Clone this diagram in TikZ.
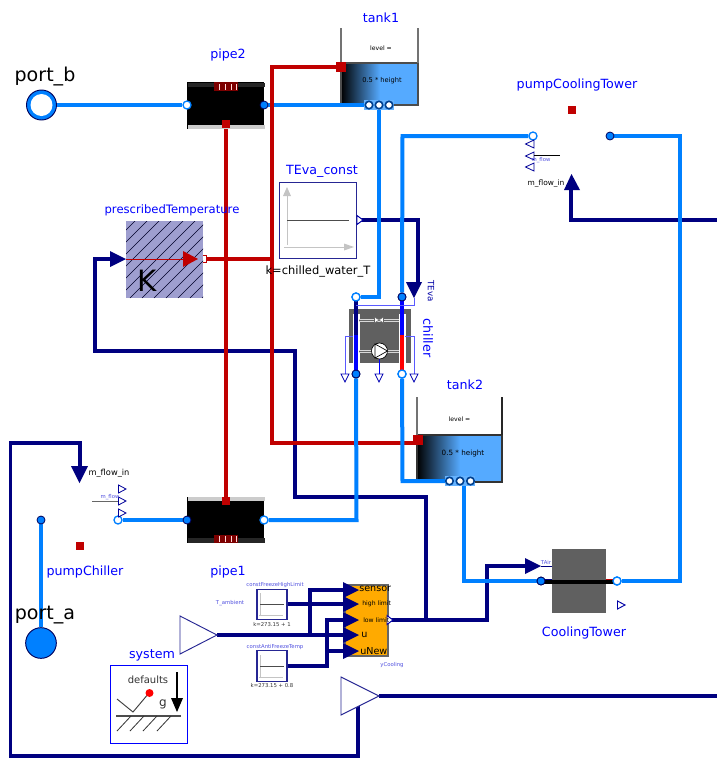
\documentclass[tikz,border=0pt]{standalone}
\usepackage{fontspec}
\setmainfont{DejaVu Sans}
\definecolor{wblue}{HTML}{0080FF}
\definecolor{wred}{HTML}{C00000}
\definecolor{wnavy}{HTML}{000080}
\definecolor{fluid}{HTML}{55AAFF}
\definecolor{tinyblue}{HTML}{5050E0}
\definecolor{cgrey}{HTML}{606060}
\definecolor{axisg}{HTML}{C4C4C4}
\definecolor{sigblue}{HTML}{5A5AFF}
\definecolor{ctrl}{HTML}{FFAA00}
\definecolor{ring}{HTML}{00408F}
\pgfdeclarelayer{blocks}
\pgfdeclarelayer{wires}
\pgfsetlayers{blocks,wires,main}
\newcommand{\fsz}[1]{\fontsize{#1}{#1}\selectfont}
\tikzset{
  bluew/.style={draw=wblue,line width=3pt,miter limit=10},
  redw/.style={draw=wred,line width=3pt},
  navyw/.style={draw=wnavy,line width=2.6pt},
  fullport/.style={circle,inner sep=0pt,minimum size=6pt,fill=wblue,draw=wnavy!70!black,line width=0.6pt},
  openport/.style={circle,inner sep=0pt,minimum size=6pt,fill=white,draw=wblue,line width=1pt},
  tankport/.style={circle,inner sep=0pt,minimum size=5.6pt,fill=white,draw=ring,line width=1.2pt},
  heatport/.style={rectangle,inner sep=0pt,minimum size=6pt,fill=wred},
  pipebody/.style={rectangle,inner sep=0pt,fill=black,minimum width=58pt,minimum height=35pt},
  lab/.style={inner sep=0pt,text=blue,font=\fsz{9.5}},
  biglab/.style={inner sep=0pt,text=black,font=\fsz{14.3}},
  blk/.style={inner sep=0pt,text=black,font=\fsz{8.6}},
  small/.style={inner sep=0pt,text=black,font=\fsz{5.6}},
  tiny/.style={inner sep=0pt,text=tinyblue,font=\fsz{4}},
  tinyk/.style={inner sep=0pt,text=black!80,font=\fsz{4}},
  srcbox/.style={rectangle,inner sep=0pt,fill=white,draw=wnavy!85,line width=0.8pt},
  navyfill/.style={fill=wnavy,draw=none},
  hollow/.style={fill=white,draw=wnavy!70!blue,line width=0.7pt},
  sig/.style={draw=sigblue,line width=0.6pt},
}
\begin{document}
\begin{tikzpicture}[x=0.75pt,y=-0.75pt]
\useasboundingbox (0,0) rectangle (717,758);

% ---------- pipes and their strips
\node[pipebody] (pipe2) at (225.5,105.5) {};
\node[pipebody] (pipe1) at (225.5,520) {};
\fill[black!85] (187.5,83) rectangle (264.5,87);
\fill[black!20] (187.5,125) rectangle (264.5,129);
\fill[black!20] (187.5,497) rectangle (264.5,501);
\fill[black!85] (187.5,538) rectangle (264.5,543);
\fill[wred!65!black] (214,82) rectangle (238,91);
\fill[wred!65!black] (214,535) rectangle (238,543);
\foreach \x in {220,226,232,237}{
  \draw[white!85!red,line width=0.5pt] (\x-1,84) -- (\x-1,90);
  \draw[white!85!red,line width=0.5pt] (\x-1,536) -- (\x-1,542);
}
% ---------- ports
\node[openport] (p2L) at (187,105) {};
\node[fullport] (p2R) at (264,105) {};
\node[fullport] (p1L) at (187,520) {};
\node[openport] (p1R) at (264,520) {};
\node[heatport] (p2H) at (226,124) {};
\node[heatport] (p1H) at (226,501) {};
\node[circle,inner sep=0pt,minimum size=22.5pt,fill=wblue,draw=wnavy!70!black,line width=0.7pt] (portb) at (41.5,105) {};
\node[circle,inner sep=0pt,minimum size=16.5pt,fill=white] at (41.5,105) {};
\node[circle,inner sep=0pt,minimum size=23pt,fill=wblue,draw=wnavy!70!black,line width=0.7pt] (porta) at (41,643) {};
\node[fullport] (pcL0) at (41,520) {};
\node[openport] (pcR) at (118,520) {};
\node[openport] (ptL) at (533,136) {};
\node[fullport] (ptR) at (610,136) {};
\node[openport] (chTL) at (356,297) {};
\node[fullport] (chTR) at (402,297) {};
\node[fullport] (chBL) at (356,374) {};
\node[openport] (chBR) at (402,374) {};
\node[fullport] (ctL) at (541,581) {};
\node[openport] (ctR) at (617,581) {};
\node[rectangle,inner sep=0pt,minimum width=23pt,minimum height=8pt,fill=wblue!60!white] at (379,105) {};
\node[tankport] (t1a) at (369,105) {};
\node[tankport] (t1b) at (379,105) {};
\node[tankport] (t1c) at (389,105) {};
\node[rectangle,inner sep=0pt,minimum width=23pt,minimum height=8pt,fill=wblue!60!white] at (460,481) {};
\node[tankport] (t2a) at (449.5,481) {};
\node[tankport] (t2b) at (460,481) {};
\node[tankport] (t2c) at (470.5,481) {};
\node[heatport,minimum size=7pt] (t1H) at (341,67) {};
\node[heatport,minimum size=7.5pt] (t2H) at (418,440) {};
\node[rectangle,inner sep=0pt,minimum size=5pt,fill=white,draw=wred,line width=0.7pt] (ptOut) at (203,259) {};
\node[heatport] at (571.5,110) {};
\node[heatport] at (80,546) {};

\coordinate (ptIn) at (110,259);
\coordinate (teva) at (418,282);
\coordinate (ctmf) at (571,190);
\coordinate (pcmf) at (80,466);
\coordinate (amp2in) at (358,706);
\coordinate (amp2out) at (379,696);
\coordinate (sysOut) at (217,635);
\coordinate (cSensor) at (343,590);
\coordinate (cHigh) at (343,604);
\coordinate (cLow) at (343,620);
\coordinate (cU) at (343,635);
\coordinate (cNew) at (343,651);
\coordinate (cOut) at (388,620);
\coordinate (tair) at (526,566);
\coordinate (teOut) at (357,220);
\coordinate (hiOut) at (288,604);
\coordinate (loOut) at (288,666);

% ---------- blocks under the wires
\begin{pgfonlayer}{blocks}
\fill[white] (0,0) rectangle (717,758);
% tank 1
\shade[left color=black,right color=fluid] (341,63) rectangle (380,105);
\fill[fluid] (380,63) rectangle (418,105);
\draw[black!70,line width=0.8pt] (341,105) -- (418,105) -- (418,63) -- (341,63) -- cycle;
\draw[black!55,line width=0.9pt] (341,63) -- (341,28) (418,63) -- (418,28);
% tank 2
\shade[left color=black,right color=fluid] (417,435) rectangle (460,482);
\fill[fluid] (460,435) rectangle (502,482);
\draw[black!80,line width=0.8pt] (417,482) -- (502,482) -- (502,435) -- (417,435) -- cycle;
\draw[black!55,line width=0.9pt] (417,435) -- (417,397);
\draw[black!85,line width=0.9pt] (502,435) -- (502,397);
% chiller
\fill[cgrey] (349,309) rectangle (411,363);
\fill[white] (352.5,314) rectangle (359.5,367);
\fill[white] (398.5,314) rectangle (405.5,367);
\draw[white!85!black,line width=0.4pt] (359,319) -- (399,319) (359,321.5) -- (399,321.5);
\draw[white!85!black,line width=0.4pt] (359,350) -- (399,350) (359,352.5) -- (399,352.5);
\draw[black!60,line width=0.5pt] (359,320) -- (399,320) (359,351) -- (399,351);
% cooling tower
\fill[cgrey] (552,549) rectangle (606,613);
% controller
\fill[ctrl] (345,585) rectangle (388,656);
\draw[black!60,line width=0.8pt] (345,585) rectangle (388,656);
\end{pgfonlayer}

% ---------- wires
\begin{pgfonlayer}{wires}
% navy
\draw[navyw] (teOut) -- (418,220) -- (teva);
\draw[navyw] (ptIn) -- (95,259) -- (95,351) -- (295,351) -- (295,497) -- (426,497) -- (426,620);
\draw[navyw] (cOut) -- (487,620) -- (487,566) -- (tair);
\draw[navyw] (ctmf) -- (571,220) -- (717,220);
\draw[navyw] (amp2in) -- (358,756) -- (10.5,756) -- (10.5,443) -- (80,443) -- (pcmf);
\draw[navyw] (amp2out) -- (717,696);
\draw[navyw] (sysOut) -- (cU);
\draw[navyw] (310,635) -- (310,590) -- (cSensor);
\draw[navyw] (hiOut) -- (cHigh);
\draw[navyw] (loOut) -- (327,666) -- (327,620) -- (cLow);
\draw[navyw] (327,651) -- (cNew);
% blue passing under the red
\draw[bluew] (portb) -- (p2L);
\draw[bluew] (p2R) -- (t1a);
% red
\draw[redw] (p2H) -- (p1H);
\draw[redw] (ptOut) -- (272,259);
\draw[redw] (t1H.center) -- (272,67) -- (272,443) -- (t2H.center |- 0,443);
% other blue
\draw[bluew] (t1b) -- (379,297) -- (chTL);
\draw[bluew] (chTR) -- (402.5,136) -- (ptL);
\draw[bluew] (ptR) -- (680,136) -- (680,581) -- (ctR);
\draw[bluew] (ctL) -- (464,581) -- (464,481);
\draw[bluew] (chBR) -- (402.5,481) -- (t2a);
\draw[bluew] (chBL) -- (356.5,520) -- (p1R);
\draw[bluew] (p1L) -- (pcR);
\draw[bluew] (pcL0) -- (porta);
\end{pgfonlayer}

% ---------- prescribedTemperature
\node[rectangle,inner sep=0pt,minimum size=58pt,fill=wnavy!38!white] (prescribedTemperature) at (164.5,259.5) {};
\begin{scope}
\clip (126,221) rectangle (203,298);
\foreach \d in {0,12,...,168}{
  \draw[black!70!wnavy,line width=0.45pt] (126+\d-80,298) -- (126+\d,218);
}
\end{scope}
\node[inner sep=0pt,font=\fsz{22}] (kLetter) at (147,281) {K};
\draw[wred,line width=0.5pt] (126,259) -- (190,259);
\fill[wred] (183,251) -- (198,259) -- (183,267) -- cycle;
\path[navyfill] (110,251) -- (126,259) -- (110,267) -- cycle;

% ---------- TEva_const
\node[srcbox,minimum size=57.5pt] (TEvaConst) at (318,220.5) {};
\draw[axisg,line width=0.7pt] (287,245) -- (287,195) (284,247) -- (346,247);
\fill[axisg] (287,187) -- (291,196) -- (283,196) -- cycle;
\fill[axisg] (354,247) -- (344,243.5) -- (344,250.5) -- cycle;
\draw[black!70,line width=0.7pt] (287,220) -- (349,220);
\path[hollow] (357,215.5) -- (363,220) -- (357,224.5) -- cycle;
\path[navyfill] (406,282) -- (422,282) -- (414,298) -- cycle;

% ---------- chiller details
\draw[wnavy,line width=3pt] (356,300) -- (356,335);
\draw[blue,line width=3pt] (356,335) -- (356,371);
\draw[blue,line width=3pt] (402,300) -- (402,335);
\draw[red,line width=3pt] (402,335) -- (402,371);
\draw[sig] (356,305) -- (414,305) -- (414,298);
\draw[sig] (353,336) -- (345,336) -- (345,374);
\draw[sig] (405,336) -- (414,336) -- (414,374);
\draw[blue,line width=0.6pt] (379,358) -- (379,374);
\foreach \x in {345,379,414}{
  \draw[fill=white,draw=blue!70!black,line width=0.6pt] (\x-4,374) -- (\x+4,374) -- (\x,382) -- cycle;
}
\draw[fill=white,draw=black!60,line width=0.4pt] (374.5,317) -- (383.5,323) -- (383.5,317) -- (374.5,323) -- cycle;
\node[circle,inner sep=0pt,minimum size=12pt,fill=white,draw=black,line width=0.5pt] (pumpIcon) at (379.5,351) {};
\draw[fill=white,draw=black,line width=0.5pt] (375,344) -- (387.5,351) -- (375,358) -- cycle;
\foreach \n in {chTL,chBR}{\node[openport] at (\n) {};}
\foreach \n in {chTR,chBL}{\node[fullport] at (\n) {};}

% ---------- pump icons
\foreach \y in {144,156,167}{
  \draw[fill=white,draw=wnavy!80!blue,line width=0.6pt] (534,\y-4) -- (534,\y+4) -- (525.5,\y) -- cycle;
}
\draw[black,line width=0.5pt] (534,155.5) -- (560,155.5);
\path[navyfill] (571.5,174) -- (580,190) -- (564,190) -- cycle;
\foreach \y in {489,501,513}{
  \draw[fill=white,draw=wnavy!80!blue,line width=0.6pt] (118.5,\y-4) -- (118.5,\y+4) -- (126,\y) -- cycle;
}
\draw[black!60,line width=0.5pt] (92,501) -- (118,501);
\path[navyfill] (71,466) -- (88,466) -- (79.5,483) -- cycle;

% ---------- cooling tower details
\draw[wnavy,line width=0.7pt] (541,566) -- (552,566);
\draw[wnavy,line width=0.7pt] (541,579) -- (552,579);
\draw[wred,line width=0.7pt] (606,579) -- (617,579);
\draw[black,line width=3pt] (541,581.5) -- (617,581.5);
\path[navyfill] (525,558) -- (541,566) -- (525,574) -- cycle;
\node[fullport] at (ctL) {};
\node[openport] at (ctR) {};
\path[hollow] (617.5,601) -- (625,605) -- (617.5,609) -- cycle;

% ---------- controller inputs and output
\foreach \y in {590,604,620,635,651}{
  \path[navyfill] (343,\y-8) -- (359,\y) -- (343,\y+8) -- cycle;
}
\path[hollow] (387,615.5) -- (393,620) -- (387,624.5) -- cycle;

% ---------- small constant sources
\node[srcbox,minimum width=22.5pt,minimum height=23pt] (constHigh) at (272,604.5) {};
\node[srcbox,minimum width=22.5pt,minimum height=23pt] (constAnti) at (272,666) {};
\foreach \y in {589,651}{
  \draw[axisg,line width=0.5pt] (260,\y+27) -- (260,\y+4) (259,\y+26) -- (283,\y+26);
  \draw[black!70,line width=0.7pt] (260,\y+15) -- (284,\y+15);
}

% ---------- amplifiers
\draw[fill=white,draw=wnavy!85,line width=0.7pt] (180,616) -- (217,635) -- (180,654) -- cycle;
\draw[fill=white,draw=wnavy!85,line width=0.7pt] (341,677) -- (379,696) -- (341,715) -- cycle;

% ---------- system
\node[rectangle,inner sep=0pt,minimum size=58pt,draw=blue,line width=0.8pt,fill=white] (systemBox) at (149,704.5) {};
\draw[black!75,line width=0.7pt] (117,699) -- (133,712) -- (149,693);
\fill[red] (149.5,693) circle (4);
\draw[black!70,line width=0.8pt] (116,716) -- (181,716);
\foreach \x in {117,130,143,157}{\draw[black!80,line width=0.6pt] (\x,731) -- (\x+14,716);}
\draw[black,line width=0.8pt] (177,672) -- (177,700);
\fill[black] (171,698) -- (183,698) -- (177,712) -- cycle;
\node[inner sep=0pt,font=\fsz{7.5},text=black!80] (defaultsLab) at (148,680) {defaults};
\node[inner sep=0pt,font=\fsz{9},text=black!80] (gLab) at (163,704) {g};

% ---------- labels
\node[lab] (lPipe2) at (228,55) {pipe2};
\node[lab] (lTank1) at (381,18) {tank1};
\node[lab] (lTank2) at (465,385) {tank2};
\node[biglab] (lPortb) at (45,76) {port\_b};
\node[biglab] (lPorta) at (45,615) {port\_a};
\node[lab] (lPump) at (577,85) {pumpCoolingTower};
\node[lab] (lTC) at (322,171) {TEva\_const};
\node[lab,font=\fsz{8.7}] (lPT) at (172,210) {prescribedTemperature};
\node[lab,rotate=-90] (lCh) at (428,338) {chiller};
\node[inner sep=0pt,text=wnavy!70!blue,font=\fsz{6.5},rotate=-90] (lTE) at (431,291) {TEva};
\node[lab] (lPC) at (85,572) {pumpChiller};
\node[lab] (lP1) at (228,572) {pipe1};
\node[lab] (lCT) at (584,633) {CoolingTower};
\node[lab] (lSys) at (152,655) {system};
\node[blk] (lK) at (318,271) {k=chilled\_water\_T};
\node[small,font=\fsz{4.6}] (t1l) at (381,48) {level =};
\node[small,font=\fsz{5}] (t1h) at (382,80.5) {0.5 * height};
\node[small,font=\fsz{4.6}] (t2l) at (459.5,419) {level =};
\node[small,font=\fsz{5.4}] (t2h) at (463,454) {0.5 * height};
\node[small] (mf1) at (546,184) {m\_flow\_in};
\node[small,font=\fsz{6.2}] (mf2) at (109,473) {m\_flow\_in};
\node[tiny] (mf3) at (541,160) {m\_flow};
\node[tiny] (mf4) at (110,497) {m\_flow};
\node[tiny] (lTAir) at (546,562) {TAir};
\node[tiny] (lHi) at (275,585) {constFreezeHighLimit};
\node[tiny] (lAnti) at (275,647) {constAntiFreezeTemp};
\node[tiny] (lTa) at (230,603) {T\_ambient};
\node[tiny] (lyc) at (392,665) {yCooling};
\node[tinyk] (k1) at (272,625) {k=273.15 + 1};
\node[tinyk] (k2) at (272,686) {k=273.15 + 0.8};
\node[inner sep=0pt,anchor=west,font=\fsz{7.2}] (cs1) at (359,589) {sensor};
\node[inner sep=0pt,anchor=west,font=\fsz{4.6}] (cs2) at (362,604) {high limit};
\node[inner sep=0pt,anchor=west,font=\fsz{4.6}] (cs3) at (363,620) {low limit};
\node[inner sep=0pt,anchor=west,font=\fsz{7.2}] (cs4) at (361,635) {u};
\node[inner sep=0pt,anchor=west,font=\fsz{7.2}] (cs5) at (360,651) {uNew};
\end{tikzpicture}
\end{document}
